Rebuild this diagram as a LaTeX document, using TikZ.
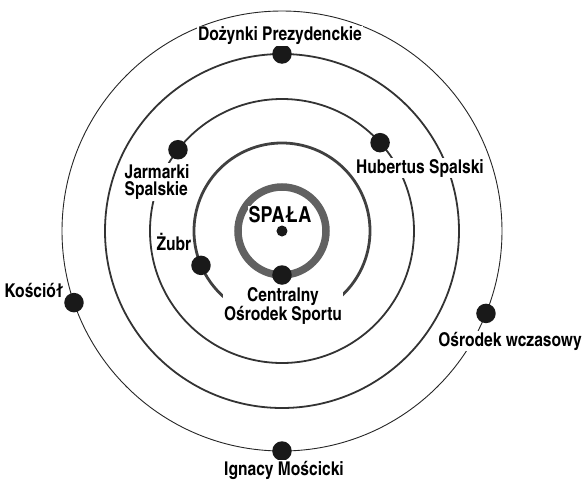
\documentclass[tikz,border=0pt]{standalone}
\usepackage{fontspec}
\setmainfont{texgyreheroscn}[Extension=.otf, UprightFont=*-regular, BoldFont=*-bold]

\tikzset{
  spot/.style={circle, fill=black!90, inner sep=0pt, minimum size=19.5pt},
  place/.style={font=\bfseries\fontsize{19}{17.5}\selectfont, fill=white, inner sep=1pt, align=center},
}

\begin{document}
\begin{tikzpicture}[x=1pt,y=1pt]
        \useasboundingbox (-282,-252) rectangle (302,231);
        % Orbits
        \draw[black!85, line width=0.9pt] (0,0) circle (220);
        \draw[black!80, line width=1.8pt] (0,0) circle (177);
        \draw[black!80, line width=1.8pt] (0,0) circle (132);
        \draw[black!75, line width=2.8pt] (-61:88) arc (-61:237:88);
        \draw[black!62, line width=7.5pt] (0,0) circle (44);
        % Places on the orbits
        \node[spot, minimum size=11pt] (spala) at (0,0) {};
        \node[spot] (cos) at (-90:44) {};
        \node[spot] (zubr) at (203:88) {};
        \node[spot] (jarmarki) at (142:132) {};
        \node[spot] (hubertus) at (42:132) {};
        \node[spot] (dozynki) at (90:177) {};
        \node[spot] (kosciol) at (199:220) {};
        \node[spot] (wczasowy) at (-22:220) {};
        \node[spot] (moscicki) at (-90:220) {};
        % Labels
        \node[place, font=\bfseries\fontsize{22}{22}\selectfont] (spalaLabel) at (-2,16) {SPAŁA};
        \node[place] (cosLabel) at (1,-75) {Centralny\\Ośrodek Sportu};
        \node[place] (zubrLabel) at (-108,-11) {Żubr};
        \node[place, align=left] (jarmarkiLabel) at (-125,49) {Jarmarki\\Spalskie};
        \node[place] (hubertusLabel) at (138,63) {Hubertus Spalski};
        \node[place] (dozynkiLabel) at (-2,195) {Dożynki Prezydenckie};
        \node[place] (kosciolLabel) at (-248,-60) {Kościół};
        \node[place] (wczasowyLabel) at (228,-110) {Ośrodek wczasowy};
        \node[place] (moscickiLabel) at (2,-239) {Ignacy Mościcki};
\end{tikzpicture}
\end{document}
